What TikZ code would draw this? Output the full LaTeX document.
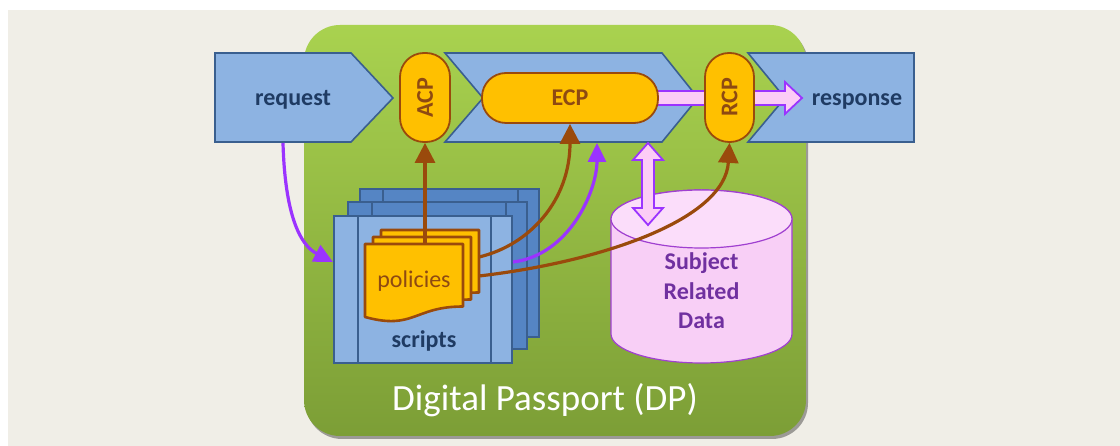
\documentclass[tikz,border=0pt]{standalone}
\usepackage{fontspec}
\setmainfont{Carlito}
\usetikzlibrary{arrows.meta,calc,shadows}

\definecolor{bgbeige}{HTML}{F0EEE7}
\definecolor{dpgreenT}{HTML}{A9D24F}
\definecolor{dpgreenB}{HTML}{7C9E36}
\definecolor{flowblue}{HTML}{8DB3E2}
\definecolor{flowedge}{HTML}{3A5F8F}
\definecolor{sheetdark}{HTML}{5585C4}
\definecolor{gold}{HTML}{FFC000}
\definecolor{rust}{HTML}{9A4A0C}
\definecolor{rusttext}{HTML}{8E4A12}
\definecolor{violet}{HTML}{9B33FF}
\definecolor{pinkfill}{HTML}{FCCCF6}
\definecolor{navytext}{HTML}{1F3B63}
\definecolor{datatext}{HTML}{7030A0}
\definecolor{cylfill}{HTML}{F8CFF6}
\definecolor{cyltop}{HTML}{FBDDFA}
\definecolor{cyledge}{HTML}{A040D0}

\pgfdeclarelayer{base}
\pgfdeclarelayer{under}
\pgfsetlayers{base,under,main}

\begin{document}
\begin{tikzpicture}[x=1pt,y=-1pt,
  flow/.style={fill=flowblue, draw=flowedge, line width=1.6pt, line join=miter},
  gate/.style={draw=rust, fill=gold, line width=1.8pt, rounded corners=24pt,
    font=\bfseries\fontsize{24}{24}\selectfont, text=rusttext, inner sep=0pt},
  lbl/.style={font=\bfseries\fontsize{24}{24}\selectfont, text=navytext},
  brownarrow/.style={draw=rust, line width=3.2pt, -{Triangle[length=20pt,width=20pt]}},
  violetarrow/.style={draw=violet, line width=3.2pt, -{Triangle[length=19pt,width=18pt]}},
  fat/.style={fill=pinkfill, draw=violet, line width=1.8pt, line join=miter},
  sheet/.style={draw=flowedge, line width=1.4pt},
  doc/.style={fill=gold, draw=rust, line width=2.6pt, line join=round},
  cyl/.style={draw=cyledge, line width=1.2pt}]
\useasboundingbox (0,0) rectangle (1120,446);

% page and the Digital Passport container
\begin{pgfonlayer}{base}
\fill[white] (0,0) rectangle (1120,446);
\fill[bgbeige] (8,10) rectangle (1120,446);
\path[rounded corners=36pt, top color=dpgreenT, bottom color=dpgreenB,
  drop shadow={shadow xshift=2pt, shadow yshift=-3pt, opacity=0.35, fill=black}]
  (304,25) rectangle (806,436);
% request / processing / response flow band
\draw[flow] (215,53) -- (351,53) -- (393,98) -- (351,142) -- (215,142) -- cycle;
\draw[flow] (445,53) -- (662,53) -- (698,98) -- (662,142) -- (445,142) -- (483,98) -- cycle;
\draw[flow] (748,53) -- (914,53) -- (914,142) -- (748,142) -- (785,98) -- cycle;
\end{pgfonlayer}

\node[lbl, anchor=base] (req) at (293,106) {request};
\node[lbl, anchor=base] (resp) at (857,106) {response};

% control points
\node[gate, minimum width=50pt, minimum height=89pt] (ACP) at (425,97.5) {\rotatebox{90}{ACP}};
\node[gate, minimum width=176pt, minimum height=50pt] (ECP) at (570,98) {ECP};
\node[gate, minimum width=49pt, minimum height=89pt] (RCP) at (729.5,97.5) {\rotatebox{90}{RCP}};

% result flowing out to the response
\coordinate (pinktip) at (802,98);
\begin{pgfonlayer}{under}
\draw[fat] ($(ECP.east)+(-12,-7)$) -- ($(pinktip)+(-17,-7)$) -- ($(pinktip)+(-17,-16)$)
  -- (pinktip) -- ($(pinktip)+(-17,16)$) -- ($(pinktip)+(-17,7)$)
  -- ($(ECP.east)+(-12,7)$) -- cycle;
\end{pgfonlayer}

% stack of scripts
\draw[sheet, fill=sheetdark] (360,189) rectangle (539,337) (383,189) -- (383,337) (518,189) -- (518,337);
\draw[sheet, fill=sheetdark] (348,202) rectangle (527,349) (372,202) -- (372,349) (506,202) -- (506,349);
\node[sheet, fill=flowblue, minimum width=178pt, minimum height=147pt, inner sep=0pt, outer sep=0pt]
  (scripts) at (423,289.5) {};
\draw[sheet] ($(scripts.north west)+(24,0)$) -- ($(scripts.south west)+(24,0)$)
  ($(scripts.north east)+(-21,0)$) -- ($(scripts.south east)+(-21,0)$);
\node[lbl, anchor=base] (scriptslbl) at (424,348) {scripts};

% stack of policy documents
\foreach \dx/\dy in {16/-14, 8/-7, 0/0}
  \draw[doc, shift={(365+\dx,244+\dy)}]
    (0,0) -- (98,0) -- (98,62.5) .. controls (49,62.5) and (49,86.4) .. (0,73) -- cycle;
\node[font=\fontsize{24}{24}\selectfont, text=rusttext, anchor=base] (pol) at (414,288) {policies};

% subject related data store
\draw[cyl, fill=cylfill] (611,219) -- (611,334) arc[start angle=180, end angle=0, x radius=90.5, y radius=29]
  -- (792,219) arc[start angle=0, end angle=-180, x radius=90.5, y radius=29] -- cycle;
\draw[cyl, fill=cyltop] (701.5,219) ellipse [x radius=90.5, y radius=29];
\node[font=\bfseries\fontsize{24}{29.5}\selectfont, text=datatext, align=center] (srd) at (701.5,291)
  {Subject\\Related\\Data};

% data exchange between the flow band and the store
\coordinate (dtop) at (648,143);
\coordinate (dbot) at (648,225);
\draw[fat] (dtop) -- ($(dtop)+(15,17)$) -- ($(dtop)+(6,17)$) -- ($(dbot)+(6,-17)$) -- ($(dbot)+(15,-17)$)
  -- (dbot) -- ($(dbot)+(-15,-17)$) -- ($(dbot)+(-6,-17)$) -- ($(dtop)+(-6,17)$) -- ($(dtop)+(-15,17)$) -- cycle;

% policies feeding the control points
\coordinate (docTop) at (426,244);
\coordinate (polE1) at (479,257);
\coordinate (polE2) at (479,276);
\draw[brownarrow] (ACP.south |- docTop) -- (ACP.south);
\draw[brownarrow] (polE1) .. controls (530,245) and (570,200) .. (ECP.south);
\draw[brownarrow] (polE2) .. controls (600,262) and (725,220) .. (RCP.south);

% request selecting scripts, scripts driving the execution
\coordinate (reqfoot) at (283,143);
\coordinate (scrIn) at (333,262);
\coordinate (scrOut) at (513,262);
\coordinate (bandfoot) at (597,143);
\draw[violetarrow] (reqfoot) .. controls (285,215) and (300,245) .. (scrIn);
\draw[violetarrow] (scrOut) .. controls (570,255) and (597,190) .. (bandfoot);

\node[font=\fontsize{37}{37}\selectfont, text=white, anchor=base] (dp) at (545,410) {Digital Passport (DP)};
\end{tikzpicture}
\end{document}
